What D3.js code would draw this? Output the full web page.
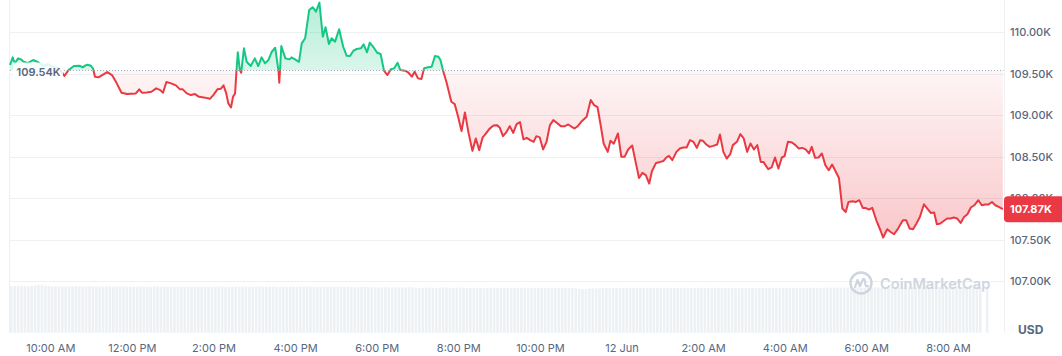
<!DOCTYPE html>
<html>
<head>
<meta charset="utf-8">
<script src="https://cdn.jsdelivr.net/npm/d3@7"></script>
<style>
  body { margin: 0; background: #fff; }
  svg text { font-family: Inter, "Noto Sans", sans-serif; }
</style>
</head>
<body>
<div id="chart"></div>
<script>
// minutes after 9:00 AM, 11 Jun
var times = [
  0, 4, 7, 12, 16, 20, 26, 34, 41, 49, 56, 63, 71, 76, 80, 86, 94, 103, 107, 111, 114, 119, 122, 125,
  130, 135, 143, 150, 157, 164, 172, 179, 185, 190, 194, 201, 208, 215, 221, 225, 230, 237, 244, 250,
  254, 260, 266, 272, 278, 285, 294, 299, 305, 310, 314, 318, 321, 325, 328, 331, 333, 335, 338, 340,
  344, 348, 354, 360, 365, 370, 375, 380, 385, 390, 395, 396, 399, 405, 411, 414, 419, 425, 429, 434,
  440, 445, 450, 455, 460, 464, 469, 473, 478, 484, 490, 495, 500, 505, 510, 516, 520, 525, 529, 535,
  540, 545, 550, 555, 560, 565, 570, 574, 581, 586, 591, 595, 600, 605, 609, 615, 620, 625, 630, 633,
  637, 642, 649, 654, 659, 664, 669, 674, 680, 685, 690, 695, 698, 705, 711, 716, 720, 725, 730, 735,
  740, 745, 750, 755, 760, 765, 770, 774, 779, 784, 789, 794, 799, 804, 810, 816, 821, 826, 830, 835,
  840, 848, 854, 859, 864, 869, 873, 879, 883, 888, 894, 899, 904, 909, 915, 920, 925, 930, 935, 940,
  944, 950, 956, 961, 965, 969, 974, 980, 985, 990, 995, 1000, 1005, 1010, 1015, 1019, 1024, 1029, 1034, 1040,
  1044, 1049, 1054, 1059, 1063, 1069, 1074, 1079, 1084, 1089, 1094, 1099, 1104, 1108, 1115, 1120, 1125, 1130, 1135, 1139,
  1144, 1150, 1155, 1160, 1165, 1170, 1175, 1179, 1184, 1189, 1194, 1199, 1204, 1209, 1214, 1219, 1224, 1229, 1233, 1239,
  1244, 1249, 1254, 1258, 1263, 1268, 1274, 1280, 1284, 1290, 1295, 1300, 1306, 1313, 1318, 1323, 1328, 1333, 1338, 1344,
  1349, 1354, 1359, 1363, 1368, 1373, 1378, 1383, 1388, 1393, 1398, 1403, 1408, 1413, 1418, 1424, 1429, 1434, 1439, 1444,
  1449, 1454, 1460
];

// BTC price (USD)
var prices = [
  109606, 109698, 109626, 109686, 109674, 109645, 109630, 109666, 109642, 109594, 109618, 109582, 109569, 109521, 109473, 109545, 109594, 109597, 109578, 109602, 109609, 109597, 109566, 109465,
  109457, 109481, 109521, 109485, 109385, 109272, 109256, 109260, 109264, 109313, 109272, 109276, 109284, 109325, 109304, 109272, 109401, 109385, 109361, 109313,
  109313, 109264, 109244, 109256, 109223, 109216, 109199, 109244, 109313, 109320, 109361, 109264, 109144, 109095, 109223, 109264, 109525, 109759, 109545, 109513,
  109807, 109645, 109594, 109686, 109594, 109698, 109626, 109666, 109766, 109814, 109525, 109392, 109835, 109686, 109674, 109698, 109674, 109645, 109867, 109928,
  110269, 110302, 110248, 110357, 109947, 110060, 109859, 109928, 109887, 110036, 109826, 109718, 109714, 109778, 109799, 109807, 109855, 109759, 109875, 109814,
  109754, 109738, 109537, 109485, 109554, 109566, 109633, 109545, 109537, 109513, 109465, 109525, 109445, 109437, 109566, 109578, 109585, 109714, 109706, 109666,
  109533, 109395, 109163, 109135, 108982, 108810, 109035, 108801, 108572, 108722, 108581, 108734, 108761, 108837, 108878, 108882, 108854, 108749, 108798, 108870,
  108789, 108894, 108918, 108710, 108729, 108701, 108681, 108749, 108734, 108589, 108681, 108882, 108942, 108910, 108870, 108870, 108890, 108862, 108842, 108870,
  108922, 108982, 109184, 109123, 109099, 108862, 108661, 108560, 108695, 108659, 108782, 108500, 108502, 108589, 108637, 108439, 108246, 108307, 108279, 108179,
  108327, 108427, 108439, 108451, 108492, 108512, 108460, 108560, 108601, 108613, 108613, 108701, 108681, 108608, 108701, 108693, 108649, 108620, 108632, 108649,
  108770, 108560, 108480, 108529, 108641, 108681, 108774, 108722, 108560, 108661, 108589, 108641, 108439, 108439, 108351, 108372, 108492, 108360, 108492, 108508,
  108681, 108673, 108641, 108601, 108608, 108589, 108541, 108620, 108488, 108492, 108541, 108400, 108339, 108408, 108327, 108246, 107877, 107836, 107957, 107966,
  107957, 107978, 107885, 107885, 107865, 107885, 107736, 107616, 107528, 107628, 107595, 107568, 107636, 107736, 107736, 107636, 107628, 107697, 107776, 107929,
  107877, 107824, 107829, 107688, 107697, 107728, 107757, 107757, 107769, 107757, 107704, 107776, 107809, 107890, 107917, 107978, 107917, 107926, 107926, 107957,
  107917, 107897, 107870
];

// 5 minute volume bars (B USD, 24h), from 9:00 AM
var volume = [
  46.4, 46.7, 46.5, 46.9, 46.6, 46.3, 46.8, 47.3, 47.6, 47.5, 47.0, 46.6,
  46.4, 46.2, 46.5, 46.3, 46.4, 46.2, 46.3, 46.5, 46.1, 46.3, 46.2, 46.4,
  46.3, 46.1, 46.0, 46.2, 46.4, 46.2, 46.0, 46.1, 46.3, 46.2, 46.1, 46.0,
  45.8, 46.0, 46.2, 46.1, 45.9, 46.0, 46.2, 46.3, 46.1, 46.0, 45.9, 46.1,
  46.0, 45.8, 45.9, 46.1, 46.0, 45.8, 45.7, 45.9, 46.0, 45.8, 45.9, 45.7,
  45.8, 46.0, 46.1, 45.7, 45.5, 45.9, 46.0, 46.2, 46.1, 45.9, 45.8, 46.0,
  46.1, 46.2, 45.9, 45.8, 46.0, 46.1, 45.9, 45.8, 45.7, 45.9, 46.0, 45.8,
  45.9, 46.0, 46.2, 46.1, 45.9, 45.8, 45.6, 45.7, 45.9, 46.0, 46.1, 45.9,
  45.8, 45.7, 45.9, 46.0, 45.8, 45.6, 45.5, 45.7, 45.8, 45.6, 45.5, 45.4,
  45.3, 45.5, 45.6, 45.4, 45.3, 45.5, 45.4, 45.2, 45.4, 45.5, 45.3, 45.1,
  45.0, 44.8, 45.1, 45.2, 45.0, 44.9, 45.1, 45.3, 45.2, 45.0, 44.9, 45.1,
  45.2, 45.0, 44.8, 44.7, 44.9, 45.0, 44.8, 44.6, 44.8, 45.0, 45.1, 44.9,
  44.8, 44.9, 45.0, 44.8, 44.7, 44.9, 45.1, 45.0, 44.9, 44.8, 44.6, 44.8,
  44.9, 44.7, 44.8, 45.0, 44.9, 44.8, 44.9, 45.0, 44.8, 44.6, 44.3, 43.9,
  43.6, 43.8, 44.2, 44.4, 44.5, 44.6, 44.7, 44.6, 44.5, 44.7, 44.8, 44.7,
  44.8, 44.9, 44.8, 44.7, 44.9, 45.0, 44.9, 44.8, 44.7, 44.9, 45.0, 44.8,
  44.7, 44.8, 44.9, 44.8, 44.6, 44.7, 44.9, 44.8, 44.7, 44.6, 44.8, 44.9,
  44.8, 44.7, 44.6, 44.8, 44.9, 44.7, 44.6, 44.5, 44.7, 44.8, 44.6, 44.5,
  44.6, 44.7, 44.8, 44.6, 44.5, 44.7, 44.8, 44.9, 44.7, 44.6, 44.8, 44.9,
  45.0, 44.9, 44.8, 45.0, 45.1, 44.9, 44.8, 45.0, 45.1, 45.0, 44.9, 45.1,
  45.2, 45.0, 45.1, 45.3, 45.2, 45.0, 45.1, 45.2, 45.3, 45.4, 45.2, 45.1,
  45.3, 45.4, 45.5, 45.3, 45.2, 45.4, 45.5, 45.6, 45.4, 45.3, 45.5, 45.6,
  45.7, 45.5, 45.4, 45.6, 45.7, 45.8, 45.6, 45.5, 45.7, 45.8, 45.9, 45.7,
  45.8, 45.9, 46.0, 45.8, 45.7, 45.9, 46.0, 46.1, 45.9, 45.8, null, 46.1
];

var priceTicks = [107000, 107500, 108000, 108500, 109000, 109500, 110000];
var openPrice = 109540;
var lastPrice = 107870;

// svg params
var svgWidth = 1062;
var svgHeight = 356;

// plot area
var plot = { left: 10, right: 1003.5, top: 32.3, bottom: 281.4 };
var volBottom = 332.7;

var startTime = new Date(2025, 5, 11, 9, 0);
function atMin(m) { return new Date(startTime.getTime() + m * 60000); }

var data = times.map(function(m, i) { return { t: atMin(m), p: prices[i] }; });
var volData = volume
    .map(function(v, i) { return { t: atMin(i * 5), v: v }; })
    .filter(function(d) { return d.v !== null; });

var svg = d3.select("#chart").append("svg")
    .attr("width", svgWidth)
    .attr("height", svgHeight);

var xScale = d3.scaleTime()
    .domain([startTime, atMin(1461)])
    .range([plot.left, plot.right]);

var yScale = d3.scaleLinear()
    .domain([107000, 110000])
    .range([plot.bottom, plot.top]);

var volScale = d3.scaleLinear()
    .domain([0, 50])
    .range([volBottom, volBottom - 50]);

var baseY = yScale(openPrice);

/// gradients and clips
var defs = svg.append("defs");

var gUp = defs.append("linearGradient").attr("id", "gUp")
    .attr("gradientUnits", "userSpaceOnUse")
    .attr("x1", 0).attr("x2", 0).attr("y1", 0).attr("y2", baseY);
gUp.append("stop").attr("offset", 0).attr("stop-color", "#16c784").attr("stop-opacity", 0.32);
gUp.append("stop").attr("offset", 1).attr("stop-color", "#16c784").attr("stop-opacity", 0.16);

var gDown = defs.append("linearGradient").attr("id", "gDown")
    .attr("gradientUnits", "userSpaceOnUse")
    .attr("x1", 0).attr("x2", 0).attr("y1", baseY).attr("y2", yScale(107500));
gDown.append("stop").attr("offset", 0).attr("stop-color", "#ea3943").attr("stop-opacity", 0.05);
gDown.append("stop").attr("offset", 1).attr("stop-color", "#ea3943").attr("stop-opacity", 0.28);

defs.append("clipPath").attr("id", "clipUp")
  .append("rect").attr("x", 0).attr("y", 0).attr("width", svgWidth).attr("height", baseY);
defs.append("clipPath").attr("id", "clipDown")
  .append("rect").attr("x", 0).attr("y", baseY).attr("width", svgWidth).attr("height", svgHeight - baseY);

/// volume bars
var step = xScale(atMin(5)) - xScale(atMin(0));
svg.append("g").selectAll("rect")
    .data(volData)
    .enter()
    .append("rect")
    .attr("x", function(d) { return xScale(d.t); })
    .attr("y", function(d) { return volScale(d.v); })
    .attr("width", step - 0.8)
    .attr("height", function(d) { return volBottom - volScale(d.v); })
    .attr("fill", "#eef1f4");

/// gridlines
svg.append("g").selectAll("line")
    .data(priceTicks)
    .enter()
    .append("line")
    .attr("x1", plot.left)
    .attr("x2", plot.right + 0.5)
    .attr("y1", function(d) { return Math.round(yScale(d)) + 0.5; })
    .attr("y2", function(d) { return Math.round(yScale(d)) + 0.5; })
    .attr("stroke", "#eff0f2")
    .attr("stroke-width", 1);

// borders left and right
svg.append("line").attr("x1", 9.5).attr("x2", 9.5).attr("y1", 0).attr("y2", volBottom)
    .attr("stroke", "#eff0f2");
svg.append("line").attr("x1", 1004.5).attr("x2", 1004.5).attr("y1", 0).attr("y2", volBottom)
    .attr("stroke", "#eff0f2");

/// watermark
var wm = svg.append("g").attr("transform", "translate(861,283)");
wm.append("circle").attr("r", 10.5).attr("fill", "none")
    .attr("stroke", "#cfd5e0").attr("stroke-width", 2.4);
wm.append("path")
    .attr("d", "M-6,4 L-3.5,-3 L-1,3 L2,-3.5 Q3.5,-5 4,-2 L4.5,2 Q5,4 7,3")
    .attr("fill", "none").attr("stroke", "#cfd5e0").attr("stroke-width", 2.2)
    .attr("stroke-linejoin", "round").attr("stroke-linecap", "round");
svg.append("text")
    .attr("x", 880)
    .attr("y", 289)
    .attr("font-size", 14.6)
    .attr("font-weight", 600)
    .attr("fill", "#cfd5e0")
    .text("CoinMarketCap");

/// areas
var area = d3.area()
    .x(function(d) { return xScale(d.t); })
    .y0(baseY)
    .y1(function(d) { return yScale(d.p); });

var line = d3.line()
    .x(function(d) { return xScale(d.t); })
    .y(function(d) { return yScale(d.p); });

svg.append("path").datum(data)
    .attr("d", area)
    .attr("fill", "url(#gUp)")
    .attr("clip-path", "url(#clipUp)");
svg.append("path").datum(data)
    .attr("d", area)
    .attr("fill", "url(#gDown)")
    .attr("clip-path", "url(#clipDown)");

/// dotted open price line
svg.append("line")
    .attr("x1", plot.left)
    .attr("x2", plot.right)
    .attr("y1", Math.round(baseY) + 0.5)
    .attr("y2", Math.round(baseY) + 0.5)
    .attr("stroke", "#a6afc0")
    .attr("stroke-width", 1)
    .attr("stroke-dasharray", "1 2");

/// price line
svg.append("path").datum(data)
    .attr("d", line)
    .attr("fill", "none")
    .attr("stroke", "#16c784")
    .attr("stroke-width", 2)
    .attr("stroke-linejoin", "round")
    .attr("clip-path", "url(#clipUp)");
svg.append("path").datum(data)
    .attr("d", line)
    .attr("fill", "none")
    .attr("stroke", "#ea3943")
    .attr("stroke-width", 2)
    .attr("stroke-linejoin", "round")
    .attr("clip-path", "url(#clipDown)");

var fmtK = function(v) { return (v / 1000).toFixed(2) + "K"; };

/// open price label
svg.append("rect")
    .attr("x", 13)
    .attr("y", baseY - 8)
    .attr("width", 50)
    .attr("height", 18)
    .attr("fill", "#fff")
    .attr("opacity", 0.85);
svg.append("text")
    .attr("x", 16.5)
    .attr("y", baseY + 2)
    .attr("dy", "0.35em")
    .attr("font-size", 11)
    .attr("font-weight", 600)
    .attr("fill", "#58667e")
    .text(fmtK(openPrice));

/// y axis labels
svg.append("g").selectAll("text")
    .data(priceTicks)
    .enter()
    .append("text")
    .attr("x", 1010)
    .attr("y", function(d) { return yScale(d); })
    .attr("dy", "0.35em")
    .attr("font-size", 11)
    .attr("font-weight", 500)
    .attr("fill", "#58667e")
    .text(fmtK);

svg.append("text")
    .attr("x", 1018)
    .attr("y", 329.5)
    .attr("dy", "0.35em")
    .attr("font-size", 12)
    .attr("font-weight", 700)
    .attr("fill", "#58667e")
    .text("USD");

/// last price tag
var lastY = yScale(lastPrice);
svg.append("rect")
    .attr("x", 1004)
    .attr("y", lastY - 13)
    .attr("width", 62)
    .attr("height", 26)
    .attr("rx", 4)
    .attr("fill", "#ea3943");
svg.append("text")
    .attr("x", 1010)
    .attr("y", lastY)
    .attr("dy", "0.35em")
    .attr("font-size", 11)
    .attr("font-weight", 700)
    .attr("fill", "#fff")
    .text(fmtK(lastPrice));

/// x axis
var hourFmt = d3.timeFormat("%-I:%M %p");
var dayFmt = d3.timeFormat("%-d %b");
var xTicks = xScale.ticks(d3.timeHour.every(2));
svg.append("g").selectAll("text")
    .data(xTicks)
    .enter()
    .append("text")
    .attr("x", function(d) { return xScale(d); })
    .attr("y", 348)
    .attr("dy", "0.35em")
    .attr("text-anchor", "middle")
    .attr("font-size", 11)
    .attr("fill", "#58667e")
    .text(function(d) { return d.getHours() === 0 ? dayFmt(d) : hourFmt(d); });
</script>
</body>
</html>
